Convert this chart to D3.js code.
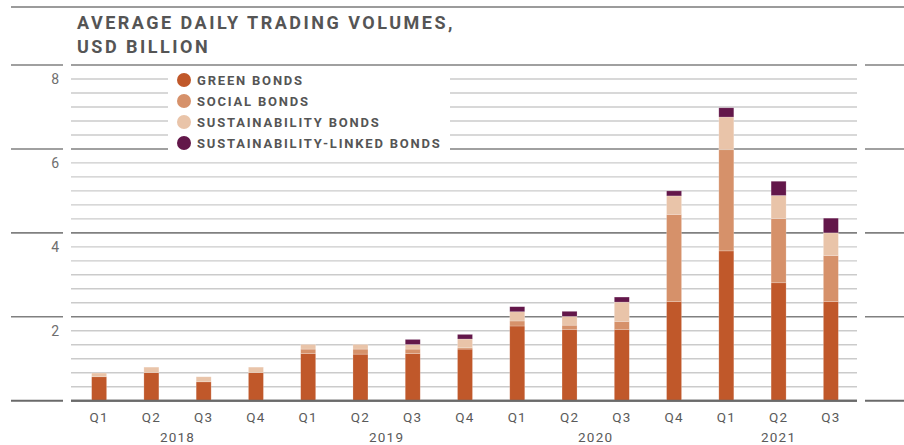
<!DOCTYPE html>
<html>
<head>
<meta charset="utf-8">
<script src="https://cdn.jsdelivr.net/npm/d3@7"></script>
<style>
  html, body { margin: 0; padding: 0; background: #fff; }
  svg { display: block; font-family: Roboto, "Liberation Sans", sans-serif; }
</style>
</head>
<body>
<svg id="chart" width="904" height="445"></svg>
<script>
// ---- data ----
const quarters = ["Q1","Q2","Q3","Q4","Q1","Q2","Q3","Q4","Q1","Q2","Q3","Q4","Q1","Q2","Q3"];
const yearOf   = ["2018","2018","2018","2018","2019","2019","2019","2019","2020","2020","2020","2020","2021","2021","2021"];
const yearLabels = ["2018","2019","2020","2021"];
const greenBonds   = [0.57,0.67,0.45,0.67,1.12,1.11,1.12,1.23,1.78,1.70,1.70,2.36,3.57,2.81,2.36];
const socialBonds  = [0.00,0.00,0.00,0.00,0.11,0.12,0.11,0.03,0.12,0.10,0.19,2.08,2.41,1.53,1.10];
const sustBonds    = [0.09,0.13,0.12,0.13,0.11,0.11,0.11,0.21,0.22,0.21,0.46,0.44,0.78,0.55,0.54];
const linkedBonds  = [0.00,0.00,0.00,0.00,0.00,0.00,0.12,0.11,0.12,0.12,0.12,0.12,0.22,0.34,0.35];
const seriesNames  = ["GREEN BONDS","SOCIAL BONDS","SUSTAINABILITY BONDS","SUSTAINABILITY-LINKED BONDS"];
const seriesColors = ["#c0582a","#d6916a","#e9c4a9","#63174a"];
const yTickValues  = [2,4,6,8];
const titleLines   = ["AVERAGE DAILY TRADING VOLUMES,","USD BILLION"];

// ---- layout ----
const svg = d3.select("#chart");
const plotL = 71, plotR = 857, y0px = 400.7, ytop = 65;
const idx = d3.range(quarters.length);
const x = d3.scaleBand().domain(idx).range([73, 857]).padding(0);
const barW = 15;
const y = d3.scaleLinear().domain([0, 8]).range([y0px, ytop]);

const table = idx.map(i => ({i, g: greenBonds[i], s: socialBonds[i], su: sustBonds[i], l: linkedBonds[i]}));
const stack = d3.stack().keys(["g","s","su","l"])(table);

// top rule
svg.append("line").attr("x1", 11).attr("x2", 904).attr("y1", 7).attr("y2", 7)
  .attr("stroke", "#7a7a7a").attr("stroke-width", 1.6);

// minor gridlines
const minor = d3.range(1, 24).map(k => k / 3).filter(v => Math.abs(v - Math.round(v)) > 1e-6 || Math.round(v) % 2 === 1);
svg.append("g").selectAll("line").data(minor).join("line")
  .attr("x1", plotL).attr("x2", plotR)
  .attr("y1", d => y(d)).attr("y2", d => y(d))
  .attr("stroke", "#cbcbcb").attr("stroke-width", 1.4);

// major gridlines (three segments)
const majors = [0, 2, 4, 6, 8];
const segs = [[11, 63], [plotL, plotR], [865, 904]];
const gMaj = svg.append("g");
majors.forEach(v => {
  segs.forEach(([a, b]) => {
    gMaj.append("line").attr("x1", a).attr("x2", b).attr("y1", y(v)).attr("y2", y(v))
      .attr("stroke", v === 0 ? "#6a6a6a" : "#808080").attr("stroke-width", v === 0 ? 2 : 1.6);
  });
});

// legend background box (covers gridlines)
svg.append("rect").attr("x", 168).attr("y", 70).attr("width", 282).attr("height", 83).attr("fill", "#fff");

// bars
svg.append("g").selectAll("g").data(stack).join("g")
  .attr("fill", (d, k) => seriesColors[k])
  .selectAll("rect").data(d => d).join("rect")
  .attr("x", d => x(d.data.i) + x.bandwidth() / 2 - barW / 2)
  .attr("width", barW)
  .attr("y", d => y(d[1]))
  .attr("height", d => Math.max(0, y(d[0]) - y(d[1])))
  .attr("stroke", "#fff").attr("stroke-opacity", 0.35).attr("stroke-width", 0.6);

// redraw baseline over bars
svg.append("line").attr("x1", plotL).attr("x2", plotR).attr("y1", y(0)).attr("y2", y(0))
  .attr("stroke", "#6a6a6a").attr("stroke-width", 2);

// y axis labels (sit below their gridline)
const yAxis = d3.axisLeft(y).tickValues(yTickValues).tickSize(0).tickPadding(0).tickFormat(d3.format("d"));
const gy = svg.append("g").attr("transform", "translate(59,14)").call(yAxis);
gy.select(".domain").remove();
gy.selectAll("text").attr("fill", "#6e6e6e").style("font-size", "14px").style("font-family", "Roboto, sans-serif");

// x axis quarter labels
const xAxis = d3.axisBottom(x).tickSize(0).tickPadding(0).tickFormat(i => quarters[i]);
const gx = svg.append("g").attr("transform", "translate(0,412.5)").call(xAxis);
gx.select(".domain").remove();
gx.selectAll("text").attr("fill", "#5a5a5a").style("font-size", "13.5px").style("letter-spacing", "1.2px")
  .style("font-family", "Roboto, sans-serif");

// year labels
svg.append("g").selectAll("text").data(yearLabels).join("text")
  .attr("x", yr => {
    const ii = idx.filter(i => yearOf[i] === yr);
    return (x(ii[0]) + x(ii[ii.length - 1])) / 2 + x.bandwidth() / 2;
  })
  .attr("y", 442)
  .attr("text-anchor", "middle")
  .attr("fill", "#5a5a5a").style("font-size", "13.5px").style("letter-spacing", "1.2px")
  .text(d => d);

// title
svg.append("g").selectAll("text").data(titleLines).join("text")
  .attr("x", 77).attr("y", (d, i) => 29 + i * 24)
  .attr("fill", "#555555").style("font-size", "18px").style("font-weight", "700")
  .style("letter-spacing", "2.5px")
  .text(d => d);

// legend
const lg = svg.append("g").selectAll("g").data(seriesNames).join("g")
  .attr("transform", (d, i) => `translate(184,${80 + i * 21})`);
lg.append("circle").attr("r", 7).attr("fill", (d, i) => seriesColors[i]);
lg.append("text").attr("x", 13).attr("y", 4.7)
  .attr("fill", "#555555").style("font-size", "13px").style("font-weight", "700")
  .style("letter-spacing", "1.8px")
  .text(d => d);
</script>
</body>
</html>
